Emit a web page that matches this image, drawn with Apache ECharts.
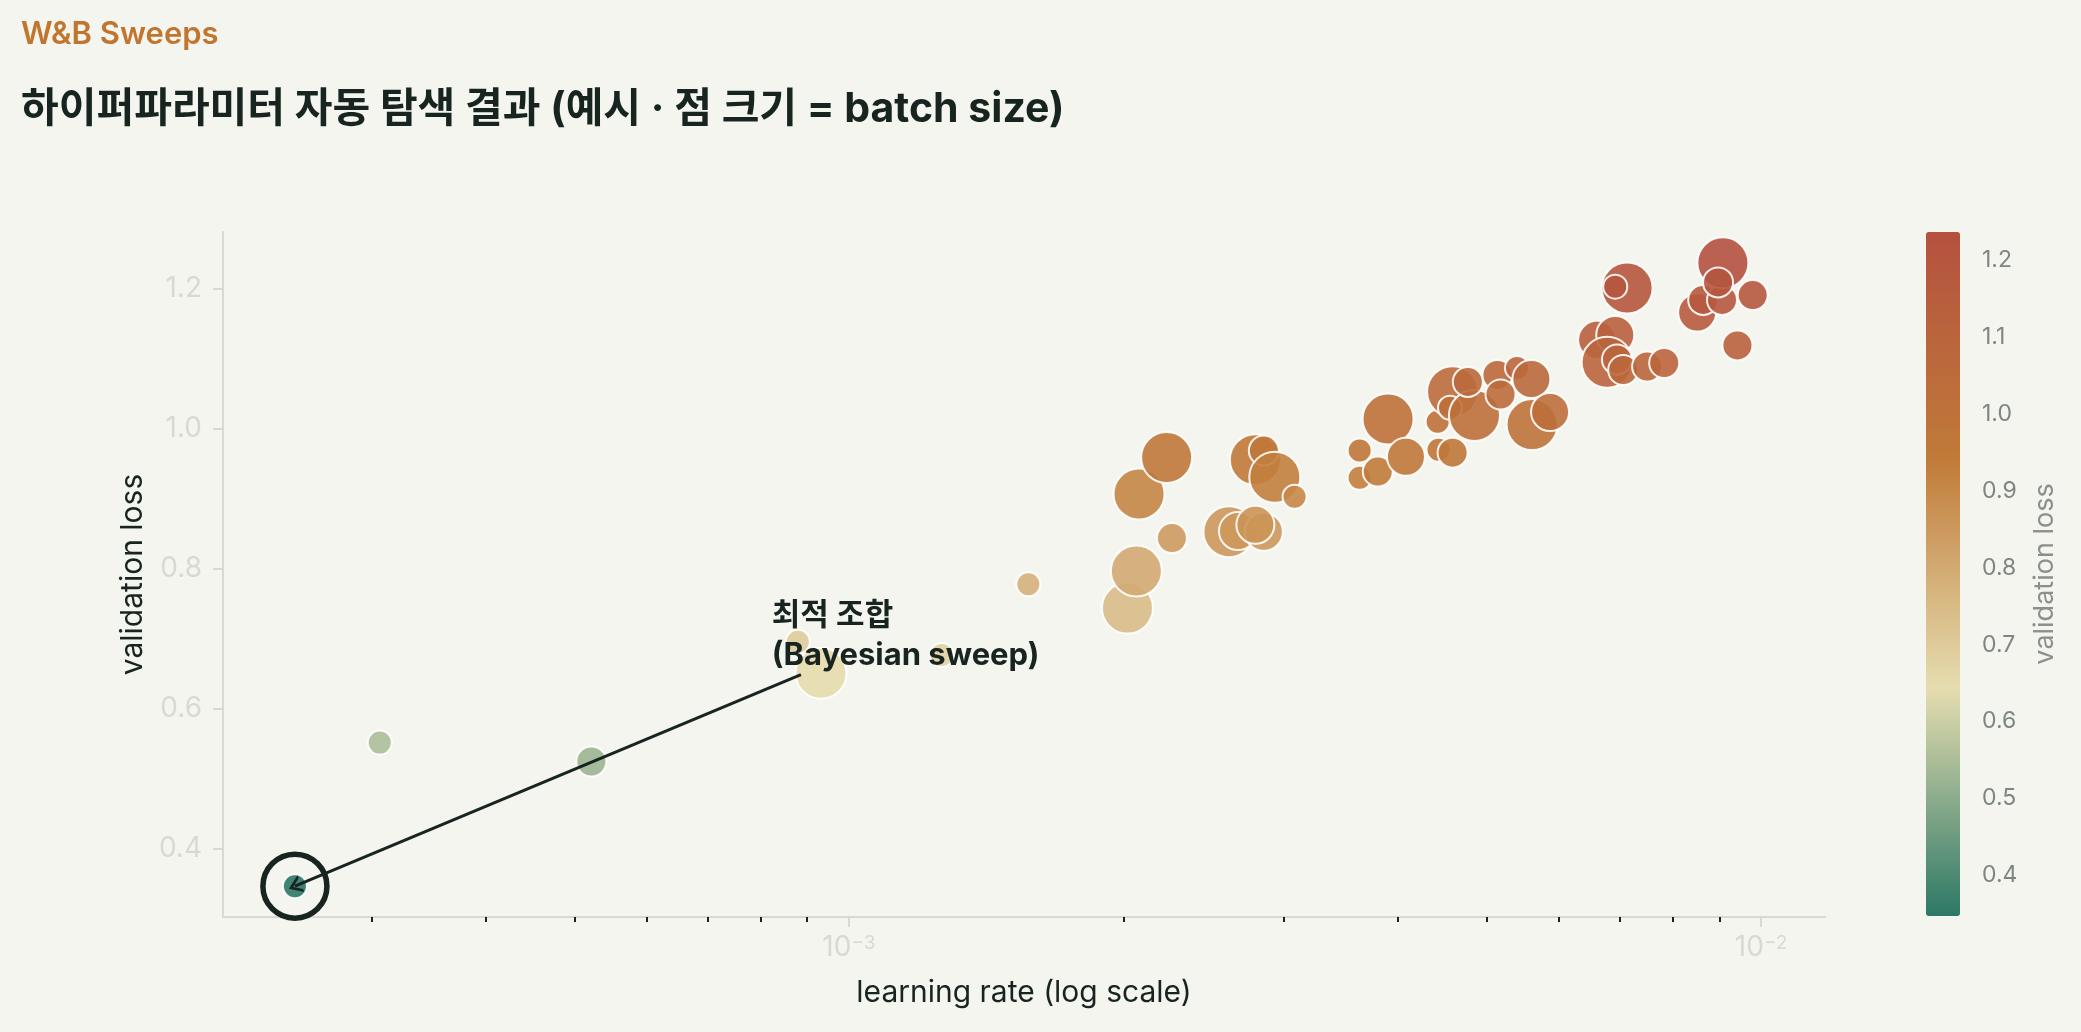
<!DOCTYPE html>
<html>
<head>
<meta charset="utf-8">
<script src="https://cdn.jsdelivr.net/npm/echarts@6/dist/echarts.min.js"></script>
<style>
  html, body { margin: 0; padding: 0; background: #f5f5f0; }
  #chart { width: 2081px; height: 1032px; }
</style>
</head>
<body>
<div id="chart"></div>
<script>
// sweep 결과 (learning rate, validation loss, batch size)
const learningRates = [
  2.47e-4, 3.06e-4, 5.22e-4, 9.32e-4, 8.79e-4, 1.264e-3, 1.573e-3, 2.02e-3, 2.066e-3, 2.26e-3,
  2.08e-3, 2.23e-3, 2.61e-3, 2.67e-3, 2.85e-3, 2.79e-3, 2.79e-3, 2.85e-3, 2.93e-3, 3.08e-3,
  3.63e-3, 3.80e-3, 3.63e-3, 3.90e-3, 4.08e-3, 4.42e-3, 4.43e-3, 4.59e-3, 4.59e-3, 4.56e-3,
  4.85e-3, 4.77e-3, 5.14e-3, 5.18e-3, 5.40e-3, 5.60e-3, 5.61e-3, 5.87e-3, 6.61e-3, 6.92e-3,
  6.78e-3, 6.95e-3, 7.06e-3, 7.50e-3, 7.83e-3, 7.13e-3, 6.92e-3, 8.51e-3, 8.64e-3, 9.06e-3,
  9.08e-3, 8.97e-3, 9.79e-3, 9.42e-3
];
const valLosses = [
  0.347, 0.552, 0.525, 0.651, 0.696, 0.677, 0.778, 0.744, 0.797, 0.844,
  0.907, 0.959, 0.853, 0.854, 0.853, 0.863, 0.956, 0.969, 0.931, 0.903,
  0.930, 0.939, 0.969, 1.014, 0.960, 1.010, 0.970, 0.966, 1.053, 1.030,
  1.019, 1.067, 1.077, 1.049, 1.087, 1.071, 1.006, 1.024, 1.127, 1.134,
  1.095, 1.099, 1.084, 1.089, 1.094, 1.201, 1.203, 1.166, 1.184, 1.184,
  1.237, 1.209, 1.191, 1.119
];
const batchSizes = [
  16, 16, 32, 128, 16, 16, 16, 128, 128, 32,
  128, 128, 128, 64, 64, 64, 128, 32, 128, 16,
  16, 32, 16, 128, 64, 16, 16, 32, 128, 16,
  128, 32, 32, 32, 16, 64, 128, 64, 64, 64,
  128, 32, 32, 32, 32, 128, 16, 64, 32, 32,
  128, 32, 32, 32
];

const bestIndex = 0;
const arrowFrom = [8.86e-4, 0.649];
const noteAt = [8.23e-4, 0.705];
const noteText = '최적 조합\n(Bayesian sweep)';

const yTicks = [0.4, 0.6, 0.8, 1.0, 1.2];
const xMajorTicks = [1e-3, 1e-2];
const xMinorTicks = [3e-4, 4e-4, 5e-4, 6e-4, 7e-4, 8e-4, 9e-4,
  2e-3, 3e-3, 4e-3, 5e-3, 6e-3, 7e-3, 8e-3, 9e-3];
const cbarTicks = [0.4, 0.5, 0.6, 0.7, 0.8, 0.9, 1.0, 1.1, 1.2];

const FONT = "Inter, 'Noto Sans CJK KR', sans-serif";
const INK = '#17241f';
const LIGHT = '#d9d9d2';
const sizeByBatch = { 16: 24, 32: 30, 64: 38, 128: 51 };

const points = learningRates.map((lr, i) => [lr, valLosses[i], batchSizes[i]]);
const lossMin = Math.min(...valLosses);
const lossMax = Math.max(...valLosses);

const chart = echarts.init(document.getElementById('chart'));

const option = {
  backgroundColor: '#f5f5f0',
  textStyle: { fontFamily: FONT },
  title: [
    {
      text: 'W&B Sweeps', left: 21, top: 19, padding: 0,
      textStyle: { fontFamily: FONT, fontSize: 31, fontWeight: 600, color: '#c1762f' }
    },
    {
      text: '하이퍼파라미터 자동 탐색 결과 (예시 · 점 크기 = batch size)', left: 21, top: 89, padding: 0,
      textStyle: { fontFamily: FONT, fontSize: 41, fontWeight: 'bold', color: INK }
    }
  ],
  grid: [
    { left: 223, top: 232, width: 1602, height: 685 },
    { left: 1926, top: 232, width: 34, height: 684 }
  ],
  xAxis: [
    {
      type: 'log', gridIndex: 0, min: 2.06e-4, max: 0.01175, position: 'bottom',
      name: 'learning rate (log scale)', nameLocation: 'middle', nameGap: 61,
      nameTextStyle: { fontFamily: FONT, fontSize: 30, color: INK },
      axisLine: { lineStyle: { color: LIGHT, width: 2 } },
      axisTick: { customValues: xMajorTicks, length: 10, lineStyle: { color: LIGHT, width: 2 } },
      axisLabel: {
        customValues: xMajorTicks, margin: 17,
        formatter: v => '{b|10}{e|−' + Math.round(-Math.log10(v)) + '}',
        rich: {
          b: { fontFamily: FONT, fontSize: 28, color: LIGHT },
          e: { fontFamily: FONT, fontSize: 19, color: LIGHT, verticalAlign: 'top' }
        }
      },
      splitLine: { show: false }
    },
    {
      type: 'log', gridIndex: 0, min: 2.06e-4, max: 0.01175, position: 'bottom',
      axisLine: { show: false },
      axisTick: { customValues: xMinorTicks, length: 5, lineStyle: { color: INK, width: 2 } },
      axisLabel: { show: false },
      splitLine: { show: false }
    },
    { type: 'value', gridIndex: 1, show: false }
  ],
  yAxis: [
    {
      type: 'value', gridIndex: 0, min: 0.303, max: 1.281,
      name: 'validation loss', nameLocation: 'middle', nameGap: 74,
      nameTextStyle: { fontFamily: FONT, fontSize: 30, color: INK },
      axisLine: { show: true, lineStyle: { color: LIGHT, width: 2 } },
      axisTick: { show: true, customValues: yTicks, length: 10, lineStyle: { color: LIGHT, width: 2 } },
      axisLabel: {
        customValues: yTicks, margin: 21, fontSize: 28, color: LIGHT, fontFamily: FONT,
        formatter: v => v.toFixed(1)
      },
      splitLine: { show: false }
    },
    {
      type: 'value', gridIndex: 1, min: lossMin, max: lossMax, position: 'right',
      name: 'validation loss', nameLocation: 'middle', nameGap: 71,
      nameTextStyle: { fontFamily: FONT, fontSize: 27, color: '#8a918c' },
      axisLine: { show: false },
      axisTick: { show: true, customValues: cbarTicks, length: 10, lineStyle: { color: '#7d8680', width: 2 } },
      axisLabel: {
        customValues: cbarTicks, margin: 22, fontSize: 23, color: '#7d8680', fontFamily: FONT,
        formatter: v => v.toFixed(1)
      },
      splitLine: { show: false }
    }
  ],
  visualMap: {
    type: 'continuous', seriesIndex: 0, dimension: 1,
    min: lossMin, max: lossMax, calculable: false, hoverLink: false,
    left: 1926, top: 232, itemWidth: 34, itemHeight: 684, padding: 0,
    text: null, showLabel: false,
    inRange: { color: ['#2c7865', '#e6ddb0', '#c17b39', '#b4513f'] }
  },
  series: [
    {
      type: 'scatter', xAxisIndex: 0, yAxisIndex: 0,
      data: points,
      symbolSize: v => sizeByBatch[v[2]],
      itemStyle: { opacity: 0.9, borderColor: '#ffffff', borderWidth: 2 },
      z: 3
    },
    {
      // 최적 조합 강조 링
      type: 'scatter', xAxisIndex: 0, yAxisIndex: 0,
      data: [points[bestIndex].slice(0, 2)],
      symbolSize: 64,
      itemStyle: { color: 'rgba(0,0,0,0)', borderColor: INK, borderWidth: 5.5, opacity: 1 },
      silent: true, z: 4
    },
    {
      // 주석 텍스트 + 화살표
      type: 'scatter', xAxisIndex: 0, yAxisIndex: 0,
      data: [noteAt],
      symbolSize: 0,
      itemStyle: { opacity: 1 },
      label: {
        show: true, position: 'right', distance: 0, formatter: noteText,
        fontFamily: FONT, fontSize: 31, fontWeight: 'bold', color: INK, lineHeight: 40, align: 'left'
      },
      markLine: {
        silent: true,
        symbol: ['none', 'path://M0,10 L5,0 L10,10 L8.2,10 L5,3.6 L1.8,10 Z'],
        symbolSize: [18, 13],
        lineStyle: { color: INK, width: 3, type: 'solid', opacity: 1 },
        label: { show: false },
        data: [[
          { coord: arrowFrom },
          { coord: points[bestIndex].slice(0, 2) }
        ]]
      },
      z: 5
    }
  ]
};

chart.setOption(option);
</script>
</body>
</html>
